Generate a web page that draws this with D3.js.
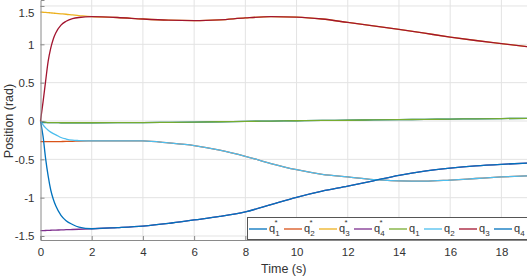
<!DOCTYPE html>
<html>
<head>
<meta charset="utf-8">
<script src="https://cdn.jsdelivr.net/npm/d3@7"></script>
<style>
  body { margin: 0; background: #fff; }
  svg { display: block; font-family: "Liberation Sans", Arial, sans-serif; }
</style>
</head>
<body>
<svg id="chart" width="527" height="278"></svg>
<script>
// time samples (s), dense near t=0 where the transients are
const times = [0,0.1,0.2,0.3,0.4,0.5,0.6,0.8,1,1.25,1.5,2,3,4,5,6,7,8,9,10,11,12,13,14,15,16,17,18,19];

const q1 = [0,-0.01,-0.015,-0.02,-0.021,-0.022,-0.022,-0.023,-0.023,-0.023,-0.023,-0.023,-0.022,-0.02,-0.017,-0.014,-0.01,-0.005,-0.001,0.003,0.007,0.01,0.014,0.018,0.021,0.025,0.028,0.032,0.035];
const q2 = [0,-0.05,-0.09,-0.12,-0.145,-0.165,-0.18,-0.215,-0.235,-0.25,-0.255,-0.26,-0.258,-0.26,-0.285,-0.32,-0.38,-0.46,-0.555,-0.635,-0.695,-0.73,-0.765,-0.78,-0.785,-0.77,-0.75,-0.73,-0.715];
const q3 = [0,0.25,0.52,0.78,0.95,1.07,1.15,1.25,1.3,1.335,1.35,1.36,1.35,1.33,1.315,1.31,1.32,1.345,1.36,1.355,1.33,1.285,1.24,1.195,1.145,1.095,1.05,1.01,0.97];
const q4 = [0,-0.2,-0.49,-0.72,-0.9,-1.02,-1.11,-1.23,-1.3,-1.35,-1.385,-1.405,-1.39,-1.37,-1.335,-1.29,-1.245,-1.185,-1.09,-0.995,-0.915,-0.85,-0.78,-0.71,-0.655,-0.615,-0.585,-0.565,-0.55];

const q1ref = [-0.02,-0.02,-0.02,-0.021,-0.021,-0.022,-0.022,-0.023,-0.023,-0.023,-0.023,-0.023,-0.022,-0.02,-0.017,-0.014,-0.01,-0.005,-0.001,0.003,0.007,0.01,0.014,0.018,0.021,0.025,0.028,0.032,0.035];
const q2ref = [-0.27,-0.27,-0.27,-0.27,-0.269,-0.269,-0.269,-0.268,-0.267,-0.265,-0.262,-0.26,-0.258,-0.26,-0.285,-0.32,-0.38,-0.46,-0.555,-0.635,-0.695,-0.73,-0.765,-0.78,-0.785,-0.77,-0.75,-0.73,-0.715];
const q3ref = [1.42,1.418,1.416,1.413,1.41,1.407,1.404,1.398,1.392,1.383,1.375,1.36,1.35,1.33,1.315,1.31,1.32,1.345,1.36,1.355,1.33,1.285,1.24,1.195,1.145,1.095,1.05,1.01,0.97];
const q4ref = [-1.43,-1.429,-1.428,-1.426,-1.425,-1.424,-1.423,-1.42,-1.418,-1.415,-1.412,-1.405,-1.39,-1.37,-1.335,-1.29,-1.245,-1.185,-1.09,-0.995,-0.915,-0.85,-0.78,-0.71,-0.655,-0.615,-0.585,-0.565,-0.55];

const seriesNames = ["q1*","q2*","q3*","q4*","q1","q2","q3","q4"];
const seriesValues = [q1ref, q2ref, q3ref, q4ref, q1, q2, q3, q4];
const colors = ["#0072BD","#D95319","#EDB120","#7E2F8E","#77AC30","#4DBEEE","#A2142F","#0072BD"];

const xTicks = [0,2,4,6,8,10,12,14,16,18];
const yTicks = [-1.5,-1,-0.5,0,0.5,1,1.5];

const width = 527, height = 278;
const margin = {top: 0, right: 0, bottom: 38, left: 40.5};

const svg = d3.select("#chart");

const x = d3.scaleLinear().domain([0, 19]).range([margin.left, width - margin.right]);
const y = d3.scaleLinear().domain([-1.552, 1.578]).range([height - margin.bottom, margin.top]);

// grid
svg.append("g").selectAll("line").data(xTicks.slice(1)).enter().append("line")
  .attr("x1", d => x(d)).attr("x2", d => x(d))
  .attr("y1", y.range()[1]).attr("y2", y.range()[0])
  .attr("stroke", "#e3e3e3").attr("stroke-width", 1);
svg.append("g").selectAll("line").data(yTicks).enter().append("line")
  .attr("x1", x.range()[0]).attr("x2", x.range()[1])
  .attr("y1", d => y(d)).attr("y2", d => y(d))
  .attr("stroke", "#e3e3e3").attr("stroke-width", 1);

// curves
const line = d3.line()
  .x((d, i) => x(times[i]))
  .y(d => y(d))
  .curve(d3.curveMonotoneX);

svg.append("g").selectAll("path").data(seriesValues).enter().append("path")
  .attr("d", d => line(d))
  .attr("fill", "none")
  .attr("stroke", (d, i) => colors[i])
  .attr("stroke-width", 1.3);

// axes, MATLAB-like with inward ticks
let xAxis = g => g
  .attr("transform", `translate(0,${y.range()[0]})`)
  .call(d3.axisBottom(x).tickValues(xTicks).tickSize(-4).tickPadding(8).tickFormat(d3.format("d")))
  .call(g => g.select(".domain").attr("stroke", "#8a8a8a"));
let yAxis = g => g
  .attr("transform", `translate(${margin.left},0)`)
  .call(d3.axisLeft(y).tickValues(yTicks).tickSize(-4).tickPadding(6).tickFormat(d => d))
  .call(g => g.select(".domain").attr("stroke", "#8a8a8a"));

const gx = svg.append("g").call(xAxis);
const gy = svg.append("g").call(yAxis);
[gx, gy].forEach(g => {
  g.selectAll(".tick line").attr("stroke", "#8a8a8a");
  g.selectAll(".tick text").attr("fill", "#333").attr("font-size", 11.5)
    .attr("font-family", "Liberation Sans, Arial, sans-serif");
});
// top label sits a bit lower in the original (clipped at the top)
gy.selectAll(".tick text").filter(d => d === 1.5).attr("dy", "0.95em");

// axis titles
svg.append("text").attr("x", (x.range()[0] + x.range()[1]) / 2).attr("y", 273)
  .attr("text-anchor", "middle").attr("font-size", 12.5).attr("fill", "#333").text("Time (s)");
svg.append("text").attr("transform", `translate(13,${y(0)}) rotate(-90)`)
  .attr("text-anchor", "middle").attr("font-size", 12.5).attr("fill", "#333").text("Position (rad)");

// legend
const leg = svg.append("g");
leg.append("rect").attr("x", 247.5).attr("y", 217.5).attr("width", 285).attr("height", 22)
  .attr("fill", "#fff").attr("stroke", "#555").attr("stroke-width", 1);
const entry = leg.selectAll("g.entry").data(seriesNames).enter().append("g")
  .attr("class", "entry")
  .attr("transform", (d, i) => `translate(${249 + i * 35},229)`);
entry.append("line").attr("x1", 0).attr("x2", 18).attr("y1", 0).attr("y2", 0)
  .attr("stroke", (d, i) => colors[i]).attr("stroke-width", 1.3);
const lt = entry.append("text").attr("x", 20).attr("y", 3).attr("font-size", 11).attr("fill", "#333");
lt.append("tspan").text("q");
lt.append("tspan").attr("font-size", 8).attr("dy", 4).text(d => d[1]);
lt.filter(d => d.endsWith("*")).append("tspan").attr("font-size", 8).attr("dx", -5).attr("dy", -11).text("*");
</script>
</body>
</html>
